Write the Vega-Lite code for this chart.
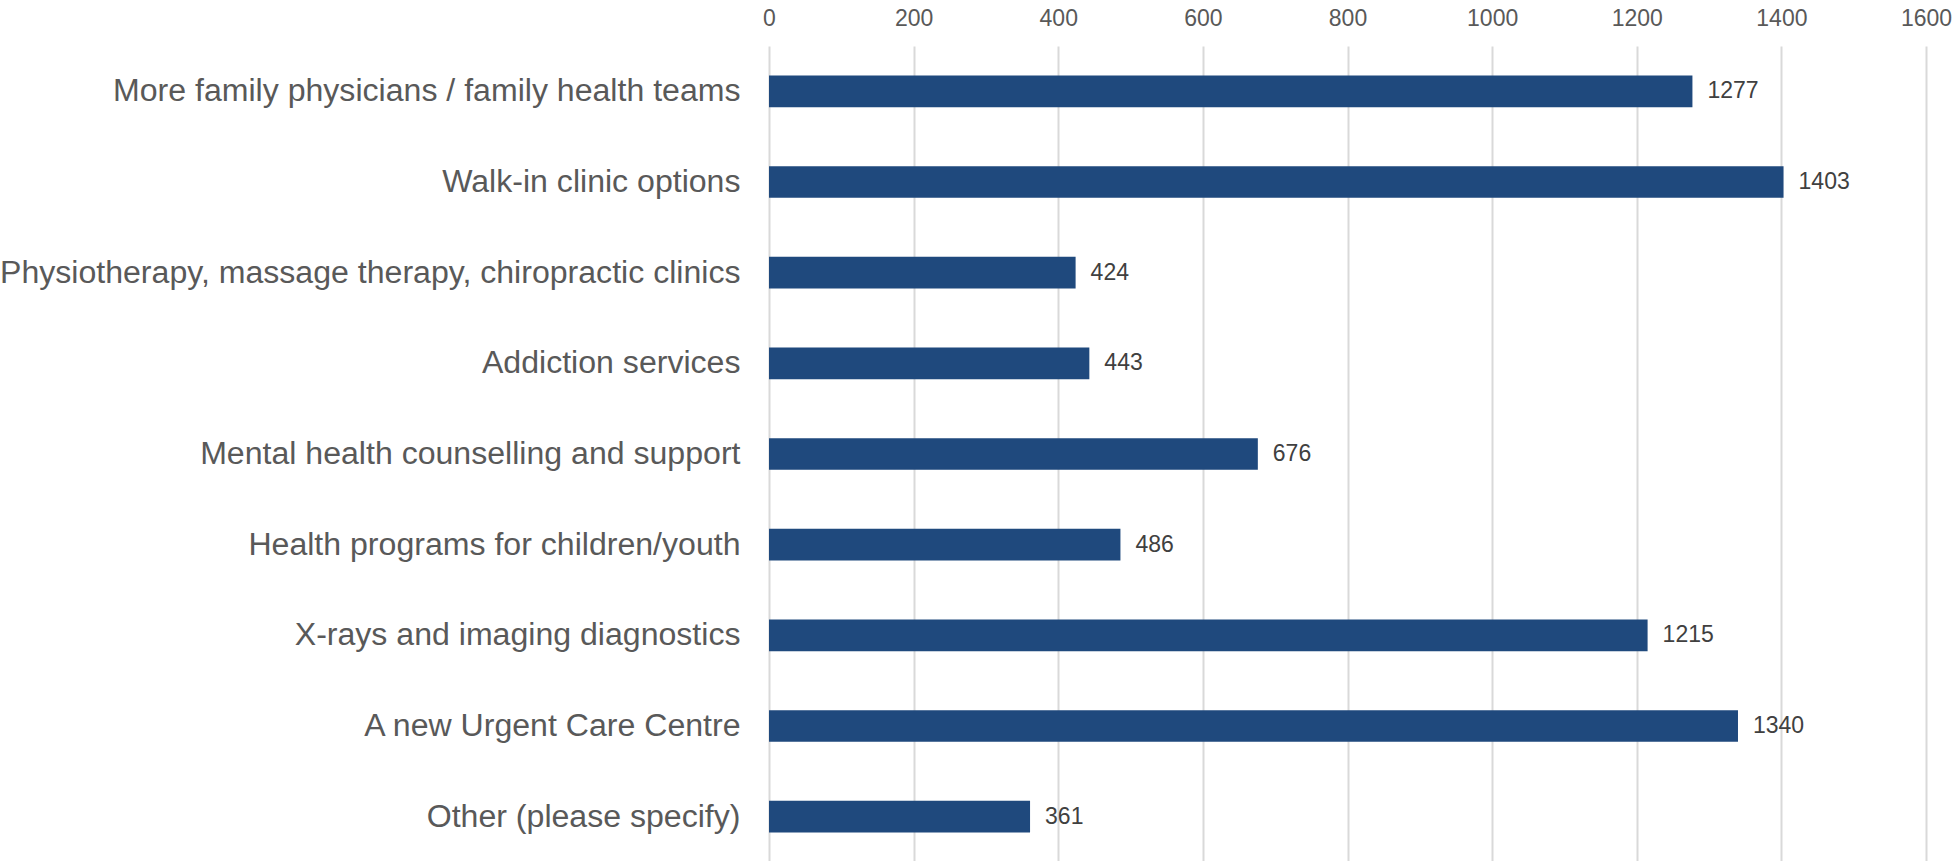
{
  "$schema": "https://vega.github.io/schema/vega-lite/v6.json",
  "autosize": {"type": "none"},
  "padding": {"left": 769, "top": 46, "right": 28, "bottom": 0},
  "width": 1157,
  "height": 816,
  "background": "white",
  "config": {"view": {"stroke": null}, "font": "Liberation Sans"},
  "data": {
    "values": [
      {"category": "More family physicians / family health teams", "count": 1277},
      {"category": "Walk-in clinic options", "count": 1403},
      {"category": "Physiotherapy, massage therapy, chiropractic clinics", "count": 424},
      {"category": "Addiction services", "count": 443},
      {"category": "Mental health counselling and support", "count": 676},
      {"category": "Health programs for children/youth", "count": 486},
      {"category": "X-rays and imaging diagnostics", "count": 1215},
      {"category": "A new Urgent Care Centre", "count": 1340},
      {"category": "Other (please specify)", "count": 361}
    ]
  },
  "encoding": {
    "y": {
      "field": "category", "type": "nominal", "sort": null,
      "scale": {"paddingInner": 0.65, "paddingOuter": 0.325},
      "axis": {"title": null, "domain": false, "ticks": false, "grid": false,
               "labelFont": "Liberation Sans", "labelFontSize": 32.1, "labelColor": "#595959",
               "labelPadding": 29, "labelLimit": 2000}
    },
    "x": {
      "field": "count", "type": "quantitative",
      "scale": {"domain": [0, 1600], "nice": false},
      "axis": {"orient": "top", "title": null, "values": [0,200,400,600,800,1000,1200,1400,1600],
               "format": "d",
               "domain": false, "ticks": false, "tickSize": 0, "labelPadding": 21,
               "labelBaseline": "alphabetic", "labelFont": "Liberation Sans", "labelFontSize": 23,
               "labelColor": "#595959", "grid": true, "gridColor": "#D9D9D9", "gridWidth": 2,
               "labelFlush": false}
    }
  },
  "layer": [
    {"mark": {"type": "bar", "color": "#1F497D"}},
    {"mark": {"type": "text", "align": "left", "baseline": "middle", "dx": 15, "font": "Liberation Sans", "fontSize": 23, "color": "#404040"},
     "encoding": {"text": {"field": "count", "type": "quantitative", "format": "d"}}}
  ]
}
